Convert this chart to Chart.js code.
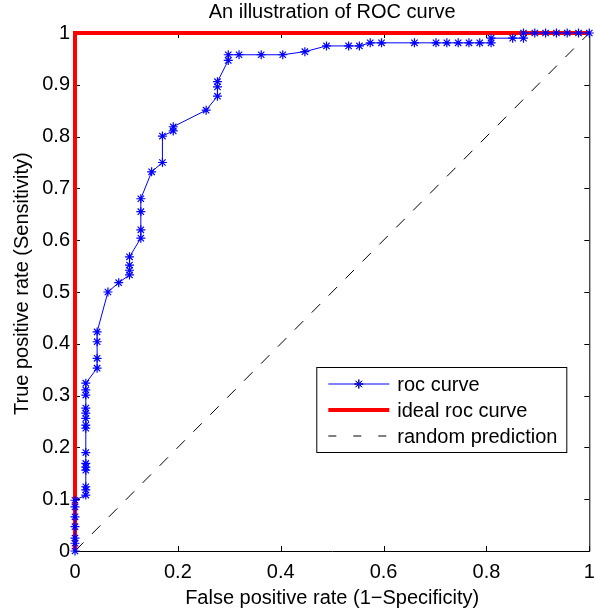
<!DOCTYPE html>
<html>
<head>
<meta charset="utf-8">
<script src="https://cdn.jsdelivr.net/npm/chart.js@4.4.1/dist/chart.umd.min.js"></script>
<style>
  html, body { margin: 0; padding: 0; background: #fff; }
  #wrap { width: 595px; height: 608px; }
</style>
</head>
<body>
<div id="wrap"><canvas id="roc"></canvas></div>
<script>
const FONT = '"Liberation Sans", Arial, Helvetica, sans-serif'
const FONT_SIZE = 20

// roc curve (false positive rate / true positive rate)
const rocFpr = [
  0, 0, 0, 0, 0, 0, 0,
  0.021, 0.021, 0.021, 0.021, 0.021, 0.021, 0.021, 0.021, 0.021, 0.021, 0.021, 0.021, 0.021, 0.021, 0.021,
  0.043, 0.043, 0.043, 0.043,
  0.064, 0.085,
  0.106, 0.106, 0.106, 0.106,
  0.128, 0.128, 0.128, 0.128,
  0.149, 0.170, 0.170, 0.191, 0.191,
  0.255, 0.277, 0.277, 0.277,
  0.298, 0.298, 0.319, 0.362, 0.404,
  0.447, 0.489, 0.532, 0.553, 0.574, 0.596,
  0.660, 0.702, 0.723, 0.745, 0.766, 0.787, 0.809, 0.809,
  0.851, 0.872, 0.872, 0.894, 0.915, 0.936, 0.957, 0.979, 1
]
const rocTpr = [
  0, 0.015, 0.025, 0.047, 0.066, 0.085, 0.098,
  0.108, 0.118, 0.124, 0.156, 0.162, 0.169, 0.19, 0.237, 0.243, 0.256, 0.266, 0.276, 0.301, 0.311, 0.324,
  0.353, 0.372, 0.404, 0.423,
  0.5, 0.518,
  0.533, 0.542, 0.552, 0.568,
  0.604, 0.62, 0.655, 0.68,
  0.732, 0.75, 0.801, 0.811, 0.819,
  0.851, 0.878, 0.896, 0.906,
  0.947, 0.958, 0.958, 0.958, 0.958,
  0.964, 0.975, 0.975, 0.975, 0.981, 0.981,
  0.981, 0.981, 0.981, 0.981, 0.981, 0.981, 0.981, 0.99,
  0.99, 0.99, 1, 1, 1, 1, 1, 1, 1
]
const idealFpr = [0, 0, 1]
const idealTpr = [0, 1, 1]
const randomFpr = [0, 1]
const randomTpr = [0, 1]

const xTicks = [0, 0.2, 0.4, 0.6, 0.8, 1]
const xTickLabels = ['0', '0.2', '0.4', '0.6', '0.8', '1']
const yTicks = [0, 0.1, 0.2, 0.3, 0.4, 0.5, 0.6, 0.7, 0.8, 0.9, 1]
const yTickLabels = ['0', '0.1', '0.2', '0.3', '0.4', '0.5', '0.6', '0.7', '0.8', '0.9', '1']
const legendLabels = ['roc curve', 'ideal roc curve', 'random prediction']

const toPoints = (xs, ys) => xs.map((x, i) => ({ x: x, y: ys[i] }))

// MATLAB style box: frame on all four sides with ticks pointing inwards
const matlabAxes = {
  id: 'matlabAxes',
  beforeDatasetsDraw(chart) {
    const { ctx, chartArea: a, scales } = chart
    const tick = 5
    ctx.save()
    ctx.strokeStyle = '#000'
    ctx.lineWidth = 1
    ctx.beginPath()
    ctx.rect(a.left + 0.5, a.top + 0.5, a.right - a.left, a.bottom - a.top)
    scales.x.ticks.forEach(t => {
      const px = Math.round(scales.x.getPixelForValue(t.value)) + 0.5
      ctx.moveTo(px, a.bottom)
      ctx.lineTo(px, a.bottom - tick)
      ctx.moveTo(px, a.top)
      ctx.lineTo(px, a.top + tick)
    })
    scales.y.ticks.forEach(t => {
      const py = Math.round(scales.y.getPixelForValue(t.value)) + 0.5
      ctx.moveTo(a.left, py)
      ctx.lineTo(a.left + tick, py)
      ctx.moveTo(a.right, py)
      ctx.lineTo(a.right - tick, py)
    })
    ctx.stroke()
    ctx.restore()
  }
}

// boxed legend inside the axes, lower right
const boxedLegend = {
  id: 'boxedLegend',
  afterDatasetsDraw(chart) {
    const { ctx, chartArea: a } = chart
    const left = a.right - 273
    const top = a.top + 334
    const w = 250
    const h = 85
    const rows = [17, 43, 69]
    const x0 = left + 12
    const x1 = left + 73
    ctx.save()
    ctx.fillStyle = '#fff'
    ctx.fillRect(left, top, w, h)
    ctx.strokeStyle = '#000'
    ctx.lineWidth = 1
    ctx.strokeRect(left + 0.5, top + 0.5, w, h)

    chart.data.datasets.forEach((ds, i) => {
      const y = top + rows[i]
      ctx.save()
      ctx.strokeStyle = ds.borderColor
      ctx.lineWidth = ds.borderWidth
      ctx.setLineDash(ds.legendDash || [])
      ctx.beginPath()
      ctx.moveTo(x0, y)
      ctx.lineTo(x1, y)
      ctx.stroke()
      ctx.restore()
      if (ds.pointRadius > 0) {
        Chart.helpers.drawPoint(ctx, {
          pointStyle: ds.pointStyle,
          radius: ds.pointRadius,
          borderWidth: 1,
          rotation: 0
        }, (x0 + x1) / 2, y)
        ctx.strokeStyle = ds.borderColor
        ctx.stroke()
      }
      ctx.fillStyle = '#000'
      ctx.font = FONT_SIZE + 'px ' + FONT
      ctx.textBaseline = 'alphabetic'
      ctx.fillText(legendLabels[i], left + 81, y + 7)
    })
    ctx.restore()
  }
}

const ctx = document.getElementById('roc').getContext('2d')

new Chart(ctx, {
  type: 'scatter',
  data: {
    datasets: [
      {
        label: legendLabels[0],
        data: toPoints(rocFpr, rocTpr),
        showLine: true,
        borderColor: '#0000ff',
        backgroundColor: '#0000ff',
        borderWidth: 1,
        pointStyle: 'star',
        pointRadius: 4.5,
        pointBorderWidth: 1.2,
        tension: 0,
        clip: false,
        order: 0
      },
      {
        label: legendLabels[1],
        data: toPoints(idealFpr, idealTpr),
        showLine: true,
        borderColor: '#ff0000',
        backgroundColor: '#ff0000',
        borderWidth: 4,
        pointRadius: 0,
        tension: 0,
        clip: false,
        order: 1
      },
      {
        label: legendLabels[2],
        data: toPoints(randomFpr, randomTpr),
        showLine: true,
        borderColor: '#000000',
        backgroundColor: '#000000',
        borderWidth: 1,
        borderDash: [12, 12],
        legendDash: [8, 17],
        pointRadius: 0,
        tension: 0,
        order: 2
      }
    ]
  },
  options: {
    animation: false,
    responsive: true,
    maintainAspectRatio: false,
    events: [],
    layout: { padding: { left: 0, right: 4, top: 0, bottom: 0 } },
    plugins: {
      legend: { display: false },
      tooltip: { enabled: false },
      title: {
        display: true,
        fullSize: false,
        text: 'An illustration of ROC curve',
        color: '#000',
        font: { family: FONT, size: FONT_SIZE, weight: 'normal', lineHeight: 1.2 },
        padding: { top: 0, bottom: 9 }
      }
    },
    scales: {
      x: {
        type: 'linear',
        min: 0,
        max: 1,
        afterBuildTicks: scale => { scale.ticks = xTicks.map(v => ({ value: v })) },
        afterFit: scale => {
          scale.height = 57
          scale.paddingLeft = 0
          scale.paddingRight = 0
        },
        ticks: {
          callback: (value, i) => xTickLabels[i],
          color: '#000',
          font: { family: FONT, size: FONT_SIZE },
          padding: 9,
          maxRotation: 0,
          autoSkip: false
        },
        grid: { display: false, drawTicks: false },
        border: { display: false },
        title: {
          display: true,
          text: 'False positive rate (1\u2212Specificity)',
          color: '#000',
          font: { family: FONT, size: FONT_SIZE, lineHeight: 1 },
          padding: { top: 0, bottom: 0 }
        }
      },
      y: {
        type: 'linear',
        min: 0,
        max: 1,
        afterBuildTicks: scale => { scale.ticks = yTicks.map(v => ({ value: v })) },
        afterFit: scale => {
          scale.width = 75
          scale.paddingTop = 0
          scale.paddingBottom = 0
        },
        ticks: {
          callback: (value, i) => yTickLabels[i],
          color: '#000',
          font: { family: FONT, size: FONT_SIZE },
          padding: 5,
          autoSkip: false
        },
        grid: { display: false, drawTicks: false },
        border: { display: false },
        title: {
          display: true,
          text: '   True positive rate (Sensitivity)',
          color: '#000',
          font: { family: FONT, size: FONT_SIZE, lineHeight: 1 },
          padding: { top: 12, bottom: 0 }
        }
      }
    }
  },
  plugins: [matlabAxes, boxedLegend]
})
</script>
</body>
</html>
